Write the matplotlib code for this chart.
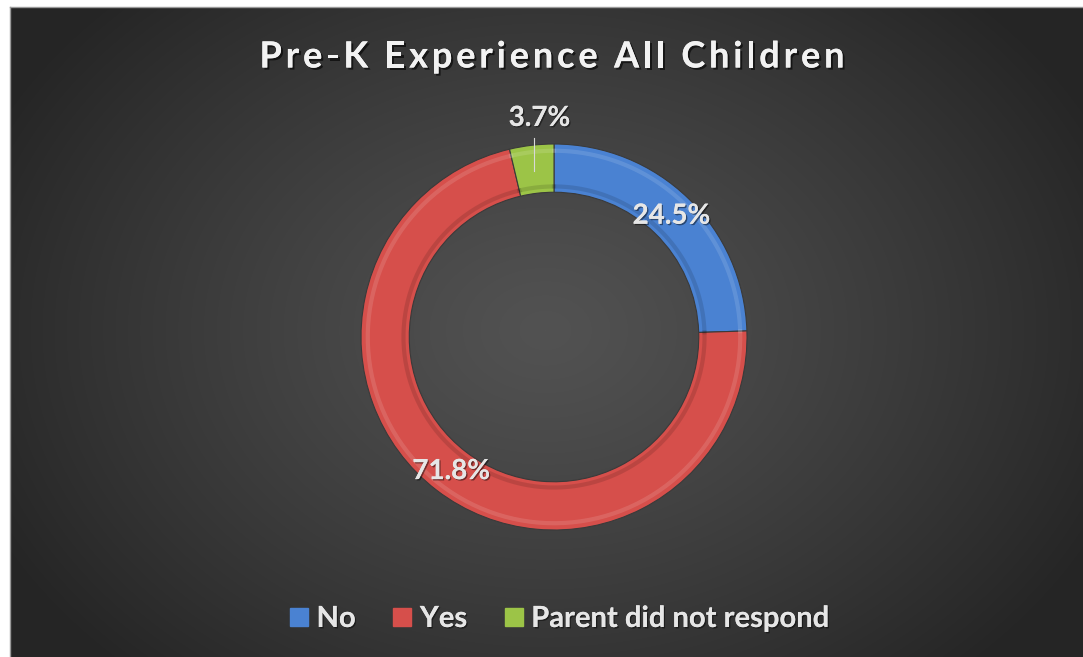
import numpy as np
import matplotlib
matplotlib.use("Agg")
import matplotlib.pyplot as plt
import matplotlib.patheffects as pe
from matplotlib.lines import Line2D

# ---- data ----
categories = ["No", "Yes", "Parent did not respond"]
values = [24.5, 71.8, 3.7]
labels = ["24.5%", "71.8%", "3.7%"]
colors = ["#4A82D2", "#D64F4B", "#9CC447"]
title = "Pre-K Experience All Children"

W, H = 1083, 657
FONT = ["Lato", "DejaVu Sans"]
fig = plt.figure(figsize=(W / 100, H / 100), dpi=100, facecolor="white")

# background panel with radial gradient
left_px, top_px = 10, 7
bg_ax = fig.add_axes([left_px / W, 0, 1 - left_px / W, (H - top_px) / H])
bg_ax.set_axis_off()
nx, ny = W - left_px, H - top_px
xx, yy = np.meshgrid(np.arange(nx), np.arange(ny))
cx, cy = 545 - left_px, 330 - top_px
d = np.sqrt(((xx - cx) / 620.0) ** 2 + ((yy - cy) / 470.0) ** 2)
d = np.clip(d, 0, 1)
c_in, c_out = 0x52 / 255, 0x25 / 255
g = c_in + (c_out - c_in) * d ** 1.2
img = np.dstack([g, g, g])
bg_ax.imshow(img, aspect="auto", extent=[0, 1, 0, 1], interpolation="bilinear")
bg_ax.set_xlim(0, 1)
bg_ax.set_ylim(0, 1)
fig.add_artist(Line2D([left_px / W, 1], [(H - top_px) / H] * 2, color="#9a9a9a", lw=1))
fig.add_artist(Line2D([left_px / W] * 2, [0, (H - top_px) / H], color="#9a9a9a", lw=1))

# donut axes
cxp, cyp, R = 554, 337, 193
ax = fig.add_axes([(cxp - R) / W, (H - cyp - R) / H, 2 * R / W, 2 * R / H])
ax.set_axis_off()
ring = 0.25
wedges, _ = ax.pie(values, colors=colors, startangle=90, counterclock=False,
                   radius=1.0, wedgeprops=dict(width=ring, edgecolor="#3a3a3a", linewidth=0.8))
ax.set_xlim(-1, 1)
ax.set_ylim(-1, 1)
ax.set_aspect("auto")

for w, c in zip(wedges, colors):
    th = np.radians(np.linspace(w.theta1, w.theta2, 100))
    ax.plot(0.965 * np.cos(th), 0.965 * np.sin(th), color="white", alpha=0.12, lw=3)
    ax.plot(0.78 * np.cos(th), 0.78 * np.sin(th), color="black", alpha=0.12, lw=3)

shadow = [pe.withSimplePatchShadow(offset=(1, -1), shadow_rgbFace="black", alpha=0.45), pe.Normal()]
lab_font = dict(family=FONT, fontweight="bold", fontsize=20, color="#E6E6E6")
for i, (w, lab) in enumerate(zip(wedges, labels)):
    mid = np.radians((w.theta1 + w.theta2) / 2)
    if i < 2:
        r = 1 - ring / 2
        t = ax.text(r * np.cos(mid), r * np.sin(mid), lab, ha="center", va="center", **lab_font)
    else:
        xm = 0.905 * np.cos(mid)
        ax.plot([xm, xm], [0.86, 1.03], color="#d8d8d8", lw=0.8, clip_on=False)
        t = ax.text(xm + 0.03, 1.135, lab, ha="center", va="center", clip_on=False, **lab_font)
    t.set_path_effects(shadow)

# title with letter spacing (each character placed after measuring prefixes)
renderer = fig.canvas.get_renderer()
tfont = dict(family=FONT, fontweight="bold", fontsize=26)
def width_px(s):
    probe = fig.text(0, 0, s + "|", **tfont)
    bar = fig.text(0, 0, "|", **tfont)
    wpx = probe.get_window_extent(renderer).width - bar.get_window_extent(renderer).width
    probe.remove(); bar.remove()
    return wpx
natural = width_px(title)
target_w = 585
sp = (target_w - natural) / (len(title) - 1)
x0 = 552 - target_w / 2
ty = 1 - 57 / H
tshadow = [pe.withSimplePatchShadow(offset=(1.5, -1.5), shadow_rgbFace="black", alpha=0.6), pe.Normal()]
for i, ch in enumerate(title):
    if ch == " ":
        continue
    xp = x0 + width_px(title[:i]) + i * sp
    t = fig.text(xp / W, ty, ch, ha="left", va="center", color="#F2F2F2", **tfont)
    t.set_path_effects(tshadow)

# legend
handles = [Line2D([], [], marker="s", linestyle="none", markersize=13, markerfacecolor=c,
                  markeredgecolor=c) for c in colors]
leg = fig.legend(handles, categories, loc="center", bbox_to_anchor=(558 / W, 1 - 619 / H), ncol=3,
                 frameon=False, handletextpad=0.2, columnspacing=1.2, handlelength=0.8,
                 prop=dict(family=FONT, weight="bold", size=21))
for tx in leg.get_texts():
    tx.set_color("#E6E6E6")
    tx.set_path_effects(shadow)

fig.savefig("out.png", dpi=100, facecolor="white")
